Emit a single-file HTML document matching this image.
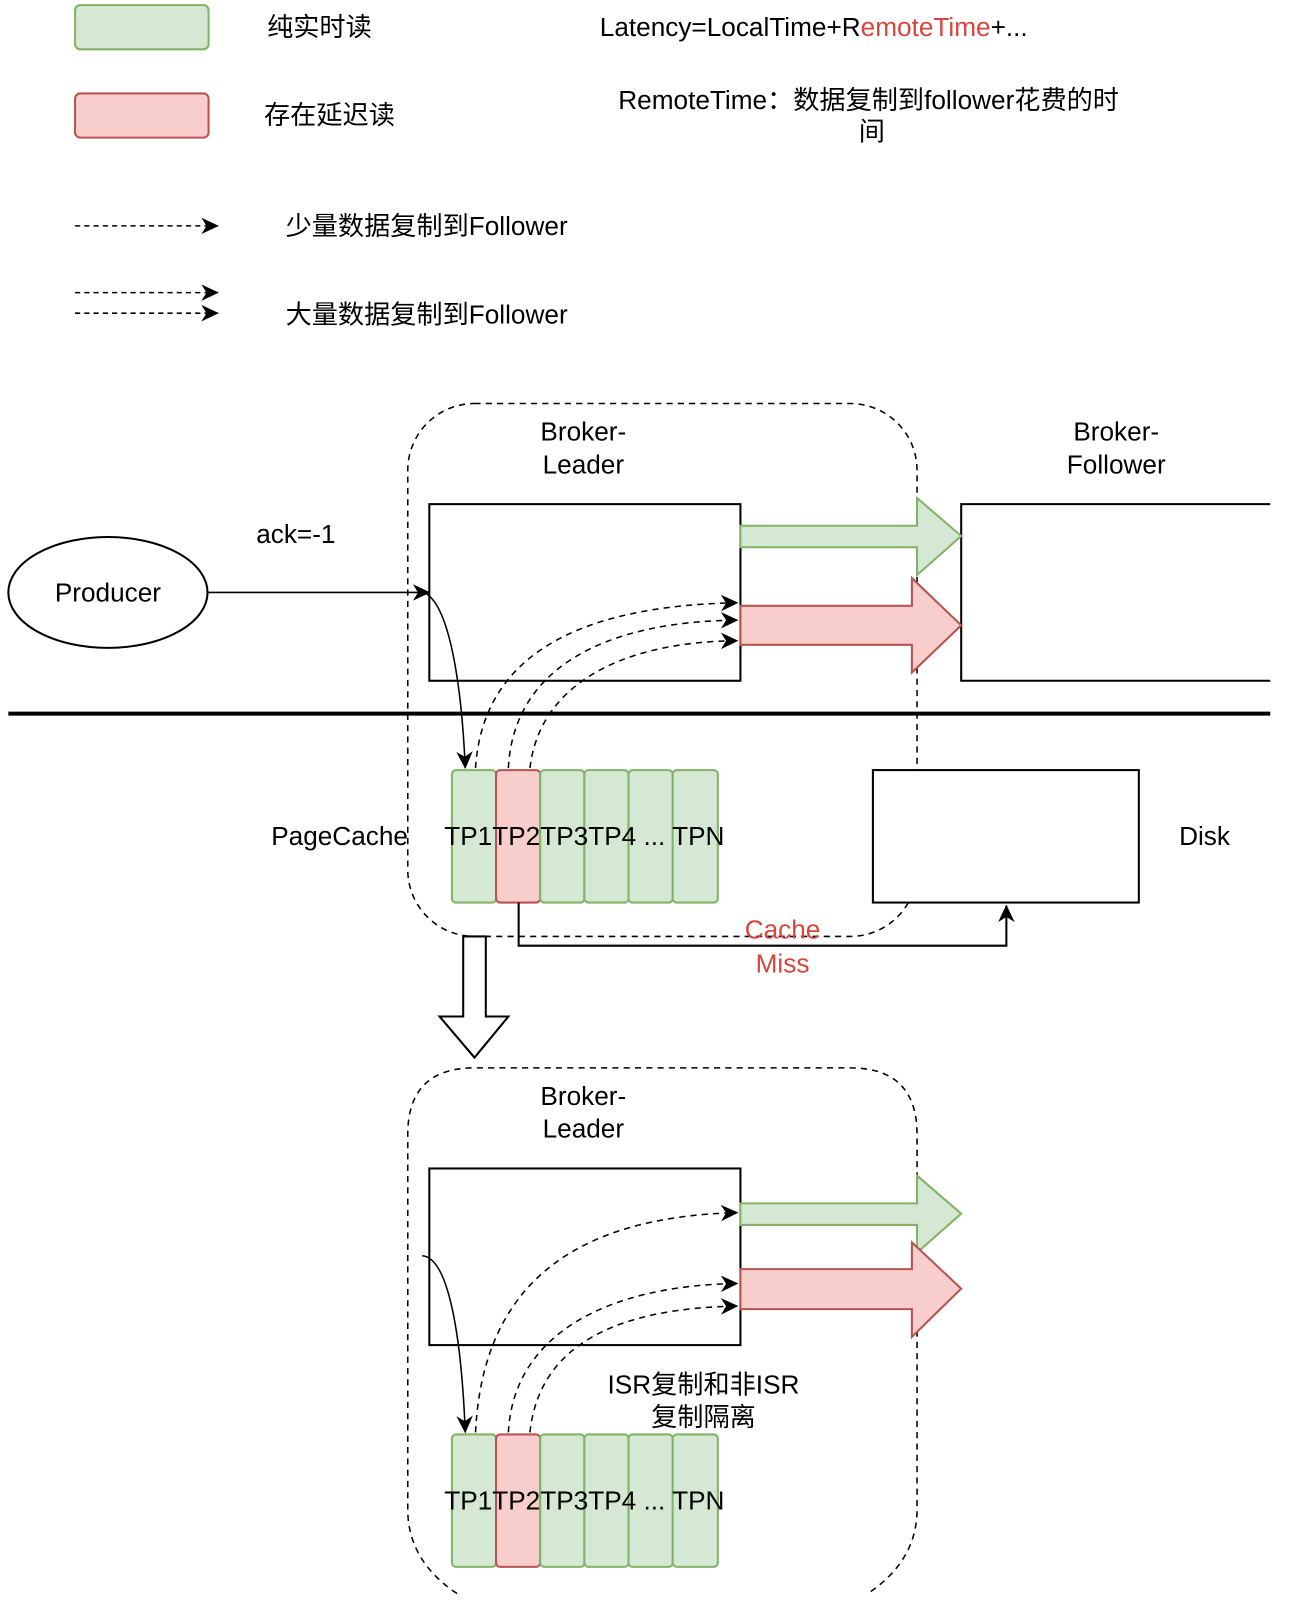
<!DOCTYPE html>
<html><head><meta charset="utf-8"><style>
html,body{margin:0;padding:0;background:#fff;}
svg{display:block;}
text{font-family:"Liberation Sans","Noto Sans CJK SC",sans-serif;font-size:25.5px;fill:#000;}
</style></head><body>
<svg width="1294" height="1610" viewBox="0 0 1260 1568" xmlns="http://www.w3.org/2000/svg">
<defs>
<marker id="ah2" markerWidth="18" markerHeight="18" refX="16" refY="9" orient="auto" markerUnits="userSpaceOnUse" viewBox="0 0 18 18">
<path d="M0,1 L17,9 L0,17 L5,9 z" fill="#000"/></marker>
</defs>
<!-- legend -->
<rect x="73" y="5" width="130" height="43" rx="5" fill="#d5e8d4" stroke="#82b366" stroke-width="2"/>
<text x="260" y="35">纯实时读</text>
<rect x="73" y="91" width="130" height="43" rx="5" fill="#f8cecc" stroke="#b85450" stroke-width="2"/>
<text x="257" y="121">存在延迟读</text>
<text x="584" y="35">Latency=LocalTime+R<tspan style="fill:#d9453d">emoteTime</tspan>+...</text>
<text x="602" y="106">RemoteTime：数据复制到follower花费的时</text>
<text x="849" y="137" text-anchor="middle">间</text>
<line x1="73" y1="220" x2="212" y2="220" stroke="#000" stroke-width="1.5" stroke-dasharray="5,4" marker-end="url(#ah2)"/>
<text x="278" y="229">少量数据复制到Follower</text>
<line x1="73" y1="285" x2="212" y2="285" stroke="#000" stroke-width="1.5" stroke-dasharray="5,4" marker-end="url(#ah2)"/>
<line x1="73" y1="305" x2="212" y2="305" stroke="#000" stroke-width="1.5" stroke-dasharray="5,4" marker-end="url(#ah2)"/>
<text x="278" y="315">大量数据复制到Follower</text>

<!-- top container -->
<rect x="397" y="393" width="496" height="519" rx="65" fill="none" stroke="#000" stroke-width="1.5" stroke-dasharray="6,5"/>
<text x="568" y="429" text-anchor="middle">Broker-</text>
<text x="568" y="461" text-anchor="middle">Leader</text>
<text x="1087" y="429" text-anchor="middle">Broker-</text>
<text x="1087" y="461" text-anchor="middle">Follower</text>
<rect x="418" y="491" width="303" height="172" fill="#fff" stroke="#000" stroke-width="2"/>
<path d="M1237,491 H936 V663 H1237" fill="#fff" stroke="#000" stroke-width="2"/>
<ellipse cx="105" cy="577" rx="97" ry="54" fill="#fff" stroke="#000" stroke-width="2"/>
<text x="105" y="586" text-anchor="middle">Producer</text>
<text x="288" y="529" text-anchor="middle">ack=-1</text>
<line x1="203" y1="577" x2="418" y2="577" stroke="#000" stroke-width="1.5" marker-end="url(#ah2)"/>
<path d="M721,512 H893 V485 L936,522 L893,560 V533 H721 z" fill="#d5e8d4" stroke="#82b366" stroke-width="2"/>
<path d="M721,590 H888 V563 L936,609 L888,655 V628 H721 z" fill="#f8cecc" stroke="#b85450" stroke-width="2"/>
<line x1="8" y1="695" x2="1237" y2="695" stroke="#000" stroke-width="4"/>
<path d="M413,577 C440,590 450,680 453,748" fill="none" stroke="#000" stroke-width="1.5" marker-end="url(#ah2)"/>
<path d="M463,748 C470,640 560,590 718,587" fill="none" stroke="#000" stroke-width="1.5" stroke-dasharray="6,5" marker-end="url(#ah2)"/>
<path d="M495,748 C500,650 590,605 718,604" fill="none" stroke="#000" stroke-width="1.5" stroke-dasharray="6,5" marker-end="url(#ah2)"/>
<path d="M516,748 C525,670 600,625 718,624" fill="none" stroke="#000" stroke-width="1.5" stroke-dasharray="6,5" marker-end="url(#ah2)"/>
<g stroke-width="2">
<rect x="440" y="750" width="43" height="129" rx="4" fill="#d5e8d4" stroke="#82b366"/>
<rect x="483" y="750" width="43" height="129" rx="4" fill="#f8cecc" stroke="#b85450"/>
<rect x="526" y="750" width="43" height="129" rx="4" fill="#d5e8d4" stroke="#82b366"/>
<rect x="569" y="750" width="43" height="129" rx="4" fill="#d5e8d4" stroke="#82b366"/>
<rect x="612" y="750" width="43" height="129" rx="4" fill="#d5e8d4" stroke="#82b366"/>
<rect x="655" y="750" width="44" height="129" rx="4" fill="#d5e8d4" stroke="#82b366"/>
</g>
<text x="569" y="823" text-anchor="middle">TP1TP2TP3TP4 ... TPN</text>
<text x="264" y="823">PageCache</text>
<rect x="850" y="750" width="259" height="129" fill="#fff" stroke="#000" stroke-width="2"/>
<text x="1173" y="823" text-anchor="middle">Disk</text>
<path d="M505,879 V921 H980 V882" fill="none" stroke="#000" stroke-width="2" marker-end="url(#ah2)"/>
<text x="762" y="914" text-anchor="middle" style="fill:#d9453d">Cache</text>
<text x="762" y="947" text-anchor="middle" style="fill:#d9453d">Miss</text>
<path d="M451,912 V990 H428 L462,1030 L495,990 H473 V912 z" fill="#fff" stroke="#000" stroke-width="2"/>

<!-- bottom container -->
<path d="M445,1552 Q397,1520 397,1470 V1105 Q397,1040 462,1040 H828 Q893,1040 893,1105 V1470 Q893,1520 845,1552" fill="none" stroke="#000" stroke-width="1.5" stroke-dasharray="6,5"/>
<text x="568" y="1076" text-anchor="middle">Broker-</text>
<text x="568" y="1108" text-anchor="middle">Leader</text>
<rect x="418" y="1138" width="303" height="172" fill="#fff" stroke="#000" stroke-width="2"/>
<path d="M721,1172 H893 V1145 L936,1182 L893,1220 V1193 H721 z" fill="#d5e8d4" stroke="#82b366" stroke-width="2"/>
<path d="M721,1236 H888 V1210 L936,1255 L888,1302 V1275 H721 z" fill="#f8cecc" stroke="#b85450" stroke-width="2"/>
<path d="M411,1223 C440,1225 450,1320 453,1395" fill="none" stroke="#000" stroke-width="1.5" marker-end="url(#ah2)"/>
<path d="M463,1395 C470,1250 560,1185 718,1181" fill="none" stroke="#000" stroke-width="1.5" stroke-dasharray="6,5" marker-end="url(#ah2)"/>
<path d="M495,1395 C500,1300 590,1252 718,1250" fill="none" stroke="#000" stroke-width="1.5" stroke-dasharray="6,5" marker-end="url(#ah2)"/>
<path d="M516,1395 C525,1310 600,1274 718,1272" fill="none" stroke="#000" stroke-width="1.5" stroke-dasharray="6,5" marker-end="url(#ah2)"/>
<text x="685" y="1357" text-anchor="middle">ISR复制和非ISR</text>
<text x="685" y="1389" text-anchor="middle">复制隔离</text>
<g stroke-width="2">
<rect x="440" y="1397" width="43" height="129" rx="4" fill="#d5e8d4" stroke="#82b366"/>
<rect x="483" y="1397" width="43" height="129" rx="4" fill="#f8cecc" stroke="#b85450"/>
<rect x="526" y="1397" width="43" height="129" rx="4" fill="#d5e8d4" stroke="#82b366"/>
<rect x="569" y="1397" width="43" height="129" rx="4" fill="#d5e8d4" stroke="#82b366"/>
<rect x="612" y="1397" width="43" height="129" rx="4" fill="#d5e8d4" stroke="#82b366"/>
<rect x="655" y="1397" width="44" height="129" rx="4" fill="#d5e8d4" stroke="#82b366"/>
</g>
<text x="569" y="1470" text-anchor="middle">TP1TP2TP3TP4 ... TPN</text>
</svg>
</body></html>
